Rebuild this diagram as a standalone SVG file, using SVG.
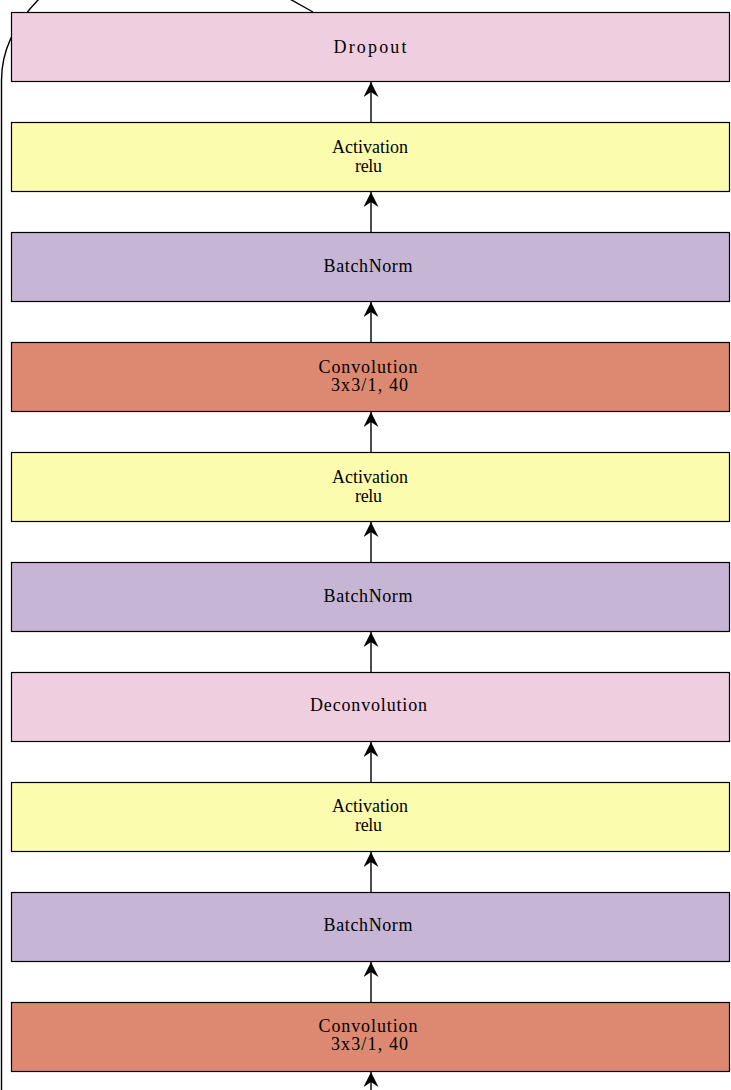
<svg xmlns="http://www.w3.org/2000/svg" width="731" height="1090" viewBox="0 0 731 1090">
<style>
.n{stroke:#000;stroke-width:1.2}
.drop{fill:#efcee0}
.act{fill:#fcfcae}
.bn{fill:#c6b5d4}
.conv{fill:#dd8972}
text{font-family:"Liberation Serif","Times New Roman",serif;font-size:18px;text-anchor:middle;fill:#000}
.e{stroke:#000;stroke-width:1.4;fill:none}
</style>
<defs>
<marker id="ah" viewBox="0 0 15 15" refX="15" refY="7.5" markerWidth="15" markerHeight="15" markerUnits="userSpaceOnUse" orient="auto">
<path d="M0,0 L15,7.5 L0,15 L5,7.5 Z" fill="#000"/>
</marker>
</defs>
<g id="connectors">
<path class="e" d="M1.5,1090 L1.5,80 C1.5,45 20,18 40,-2"/>
<path class="e" d="M313,12 L288,-2"/>
<path class="e" d="M371,122 L371,82" marker-end="url(#ah)"/>
<path class="e" d="M371,232 L371,192" marker-end="url(#ah)"/>
<path class="e" d="M371,342 L371,302" marker-end="url(#ah)"/>
<path class="e" d="M371,452 L371,412" marker-end="url(#ah)"/>
<path class="e" d="M371,562 L371,522" marker-end="url(#ah)"/>
<path class="e" d="M371,672 L371,632" marker-end="url(#ah)"/>
<path class="e" d="M371,782 L371,742" marker-end="url(#ah)"/>
<path class="e" d="M371,892 L371,852" marker-end="url(#ah)"/>
<path class="e" d="M371,1002 L371,962" marker-end="url(#ah)"/>
<path class="e" d="M371,1095 L371,1072" marker-end="url(#ah)"/>
</g>
<g id="dropout"><rect class="n drop" x="11.5" y="12.5" width="718" height="69"/><text x="370" y="53" textLength="73" lengthAdjust="spacing">Dropout</text></g>
<g id="act3"><rect class="n act" x="11.5" y="122.5" width="718" height="69"/><text x="370" y="153" textLength="76" lengthAdjust="spacing">Activation</text><text x="368.5" y="172" textLength="27" lengthAdjust="spacing">relu</text></g>
<g id="bn3"><rect class="n bn" x="11.5" y="232.5" width="718" height="69"/><text x="368" y="272" textLength="89" lengthAdjust="spacing">BatchNorm</text></g>
<g id="conv2"><rect class="n conv" x="11.5" y="342.5" width="718" height="69"/><text x="368" y="373" textLength="99" lengthAdjust="spacing">Convolution</text><text x="369.5" y="391" textLength="77" lengthAdjust="spacing">3x3/1, 40</text></g>
<g id="act2"><rect class="n act" x="11.5" y="452.5" width="718" height="69"/><text x="370" y="483" textLength="76" lengthAdjust="spacing">Activation</text><text x="368.5" y="502" textLength="27" lengthAdjust="spacing">relu</text></g>
<g id="bn2"><rect class="n bn" x="11.5" y="562.5" width="718" height="69"/><text x="368" y="602" textLength="89" lengthAdjust="spacing">BatchNorm</text></g>
<g id="deconv"><rect class="n drop" x="11.5" y="672.5" width="718" height="69"/><text x="368.5" y="711" textLength="117" lengthAdjust="spacing">Deconvolution</text></g>
<g id="act1"><rect class="n act" x="11.5" y="782.5" width="718" height="69"/><text x="370" y="812" textLength="76" lengthAdjust="spacing">Activation</text><text x="368.5" y="831" textLength="27" lengthAdjust="spacing">relu</text></g>
<g id="bn1"><rect class="n bn" x="11.5" y="892.5" width="718" height="69"/><text x="368" y="931" textLength="89" lengthAdjust="spacing">BatchNorm</text></g>
<g id="conv1"><rect class="n conv" x="11.5" y="1002.5" width="718" height="69"/><text x="368" y="1032" textLength="99" lengthAdjust="spacing">Convolution</text><text x="369.5" y="1050" textLength="77" lengthAdjust="spacing">3x3/1, 40</text></g>
</svg>
